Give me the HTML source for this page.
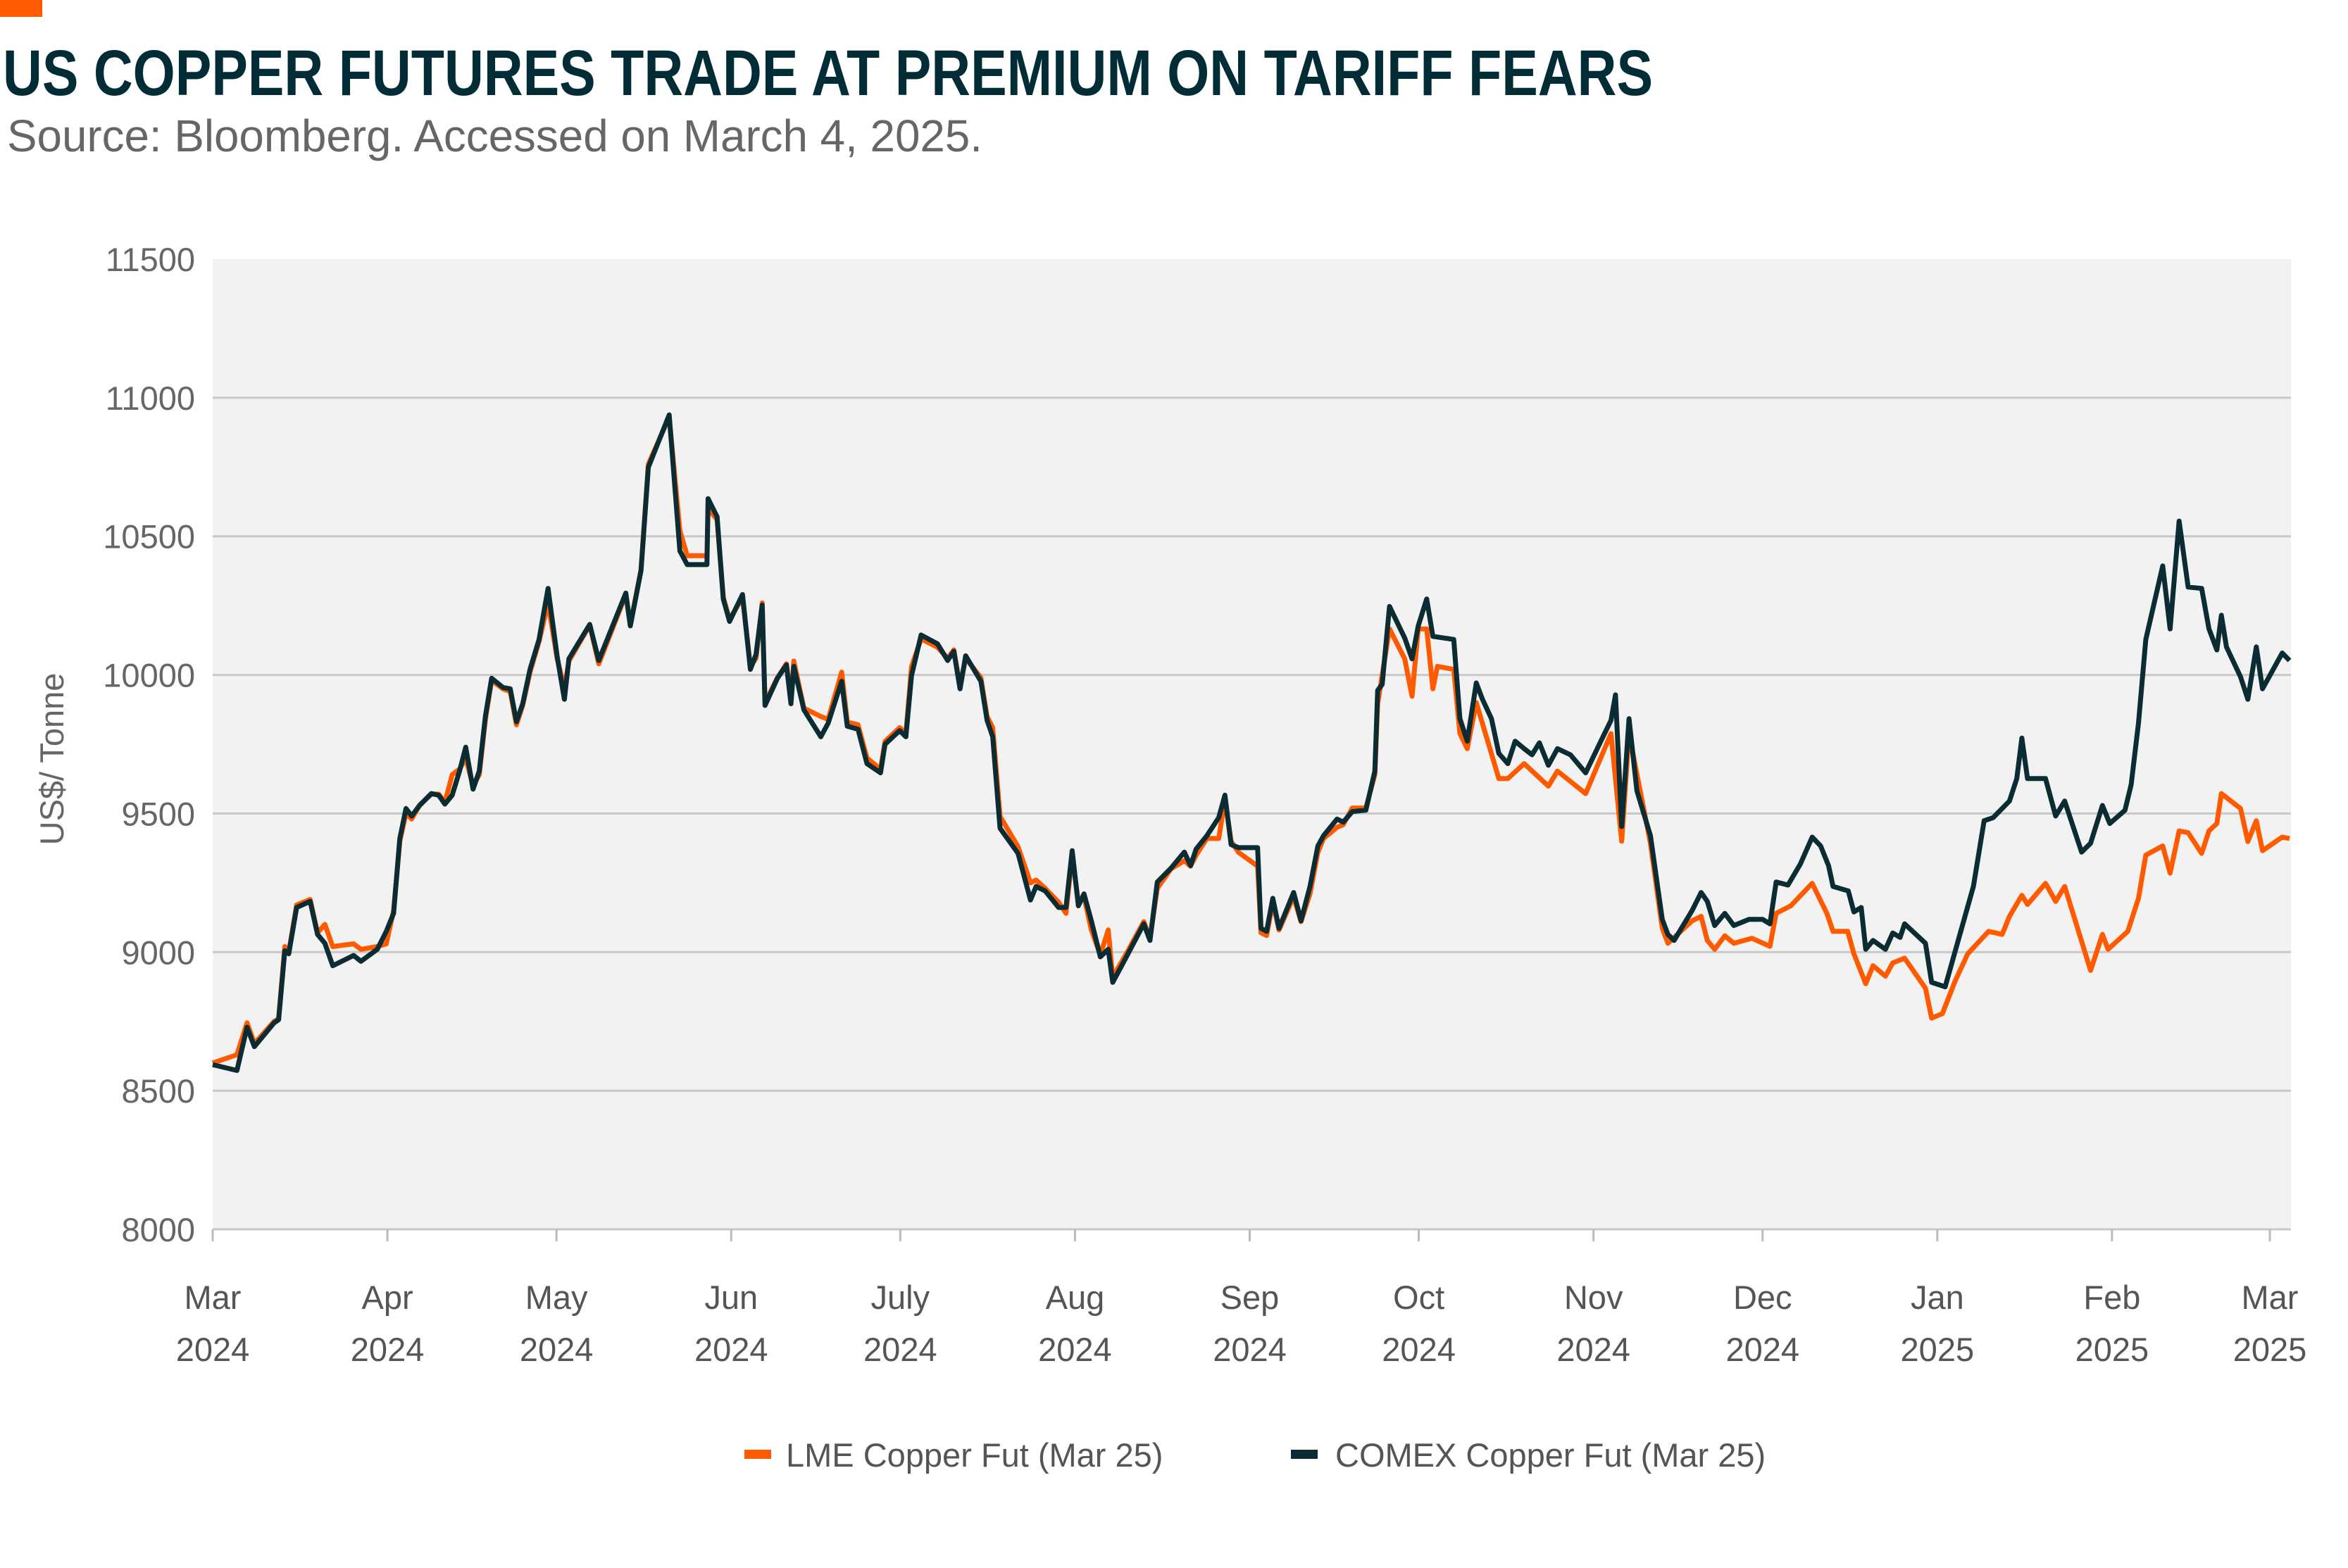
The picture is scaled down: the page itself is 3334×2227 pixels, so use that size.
<!DOCTYPE html>
<html><head><meta charset="utf-8"><style>
html,body{margin:0;padding:0;background:#fff;}
svg{display:block;font-family:"Liberation Sans",sans-serif;}
</style></head><body>
<svg id="chart" width="3334" height="2227" viewBox="0 0 3334 2227" xmlns="http://www.w3.org/2000/svg">
<rect x="0" y="0" width="60" height="24" fill="#ff5a00"/>
<text x="4" y="135" font-size="92" font-weight="bold" fill="#022d36" textLength="2343" lengthAdjust="spacingAndGlyphs">US COPPER FUTURES TRADE AT PREMIUM ON TARIFF FEARS</text>
<text x="10" y="215" font-size="64" fill="#666" textLength="1385" lengthAdjust="spacingAndGlyphs">Source: Bloomberg. Accessed on March 4, 2025.</text>
<rect x="302" y="368" width="2951" height="1378" fill="#f2f2f2"/>
<g id="grid"></g><g id="yticks"></g><g id="xticks"></g>
<text transform="translate(90,1078) rotate(-90)" text-anchor="middle" font-size="47" fill="#666">US$/ Tonne</text>
<g id="series"></g>
<g>
<rect x="1057" y="2059" width="38" height="13" fill="#ff5a00"/>
<text x="1116" y="2083" font-size="47" fill="#555">LME Copper Fut (Mar 25)</text>
<rect x="1833" y="2059" width="38" height="13" fill="#0b2c33"/>
<text x="1896" y="2083" font-size="47" fill="#555">COMEX Copper Fut (Mar 25)</text>
</g>
</svg>
<script>
const yTicks=[8000,8500,9000,9500,10000,10500,11000,11500];
const monthLabels=["Mar","Apr","May","Jun","July","Aug","Sep","Oct","Nov","Dec","Jan","Feb","Mar"];
const yearLabels=["2024","2024","2024","2024","2024","2024","2024","2024","2024","2024","2025","2025","2025"];
const monthDays=[0,31,61,92,122,153,184,214,245,275,306,337,365];
const comexDays=[0,4.3,6.1,7.4,10.9,11.7,12.8,13.5,14.9,17.3,18.6,19.9,21.3,25,26.3,29.2,30.8,32.1,33.2,34.3,35.3,36.7,38.8,40.1,41.2,42.5,43.8,44.9,46.2,47.3,48.4,49.5,51.5,52.8,53.9,55,56.3,57.9,59.5,61.1,62.4,63.2,66.9,68.5,73.3,74.1,76,77.3,81,82.9,84.2,87.7,87.9,89.5,90.6,91.7,94,95.4,96.4,97.5,98,100.2,101.8,102.6,103.1,104.9,107.9,109.2,111.6,112.6,114.5,116.1,118.5,119.3,121.9,123,124,125.7,128.6,130.4,131.5,132.6,133.6,136.3,137.4,138.4,139.7,142.9,145.1,146.1,147.7,150.1,151.4,152.5,153.6,154.6,155.9,157.5,158.9,159.7,162,165.2,166.3,167.6,170,172.4,173.5,174.5,176.4,178.5,179.6,180.7,182,185.4,186,187,188.1,189.2,191.8,193.1,194.7,196.1,197.1,199.5,200.6,202.2,204.6,206.2,206.7,207.5,208.8,211.5,212.8,213.9,215.4,216.5,220.2,221.3,222.6,224.2,225.3,226.9,228.2,229.8,231.1,232.7,234.1,235.4,237,238.6,240.9,243.6,246.8,248.1,248.9,250,251.3,252.7,255.1,257.2,258.2,259.3,262.5,264.1,265.2,266.5,268.3,269.9,272.6,275,276.3,277.4,279.5,281.7,283.8,285.3,286.7,287.5,290.2,291.2,292.5,293.3,294.6,296.8,298.1,299.4,300.2,303.9,305,307.4,312.4,314.3,315.9,318.8,320.1,321,322,325.2,327,328.6,331.6,333.2,335.3,336.6,339.3,340.4,341.7,343,346,347.3,348.9,350.5,352.9,354.2,355.6,356.4,357.3,359.8,361.1,362.6,363.7,367.2,368.5];
const comexValues=[8594,8573,8729,8659,8745,8756,9005,8994,9161,9183,9064,9032,8951,8988,8967,9010,9075,9140,9410,9518,9491,9529,9572,9566,9534,9566,9653,9739,9588,9653,9852,9988,9955,9950,9831,9896,10020,10128,10312,10069,9912,10058,10182,10052,10295,10177,10376,10749,10938,10447,10398,10398,10636,10571,10274,10193,10290,10020,10074,10252,9890,9988,10036,9896,10031,9874,9777,9826,9977,9815,9804,9680,9647,9750,9799,9777,9998,10144,10112,10052,10085,9950,10069,9977,9836,9777,9447,9356,9188,9237,9221,9161,9161,9366,9167,9210,9113,8983,9010,8891,8978,9102,9042,9253,9302,9361,9312,9372,9420,9485,9566,9388,9377,9377,9086,9075,9194,9086,9215,9113,9237,9383,9420,9480,9469,9507,9512,9653,9944,9966,10247,10133,10058,10177,10274,10139,10128,9842,9761,9971,9912,9842,9717,9680,9761,9734,9712,9755,9674,9734,9712,9647,9782,9836,9928,9453,9842,9582,9420,9118,9064,9042,9150,9215,9183,9096,9140,9096,9118,9118,9102,9253,9242,9318,9415,9383,9312,9237,9221,9145,9161,9010,9042,9010,9069,9053,9102,9032,8891,8875,9237,9474,9485,9545,9626,9772,9626,9626,9491,9545,9361,9393,9529,9464,9512,9604,9826,10128,10393,10166,10555,10317,10312,10166,10090,10215,10101,9993,9912,10101,9950,10079,10052];
const lmeDays=[0,4.3,6.1,7.4,10.9,11.7,12.8,13.5,14.9,17.3,18.6,19.9,21.3,25,26.3,29.2,30.8,32.1,33.2,34.3,35.3,36.7,38.8,40.1,41.2,42.5,43.8,44.9,46.2,47.3,48.4,49.5,51.5,52.8,53.9,55,56.3,57.9,59.5,61.1,62.4,63.2,66.9,68.5,73.3,74.1,76,77.3,81,82.9,84.2,87.7,87.9,89.5,90.6,91.7,94,95.4,96.4,97.5,98,100.2,101.8,102.6,103.1,104.9,107.9,109.2,111.6,112.6,114.5,116.1,118.5,119.3,121.9,123,124,125.7,128.6,130.4,131.5,132.6,133.6,136.3,137.4,138.4,139.7,142.9,145.1,146.1,147.7,150.1,151.4,152.5,153.6,154.6,155.9,157.5,158.9,159.7,162,165.2,166.3,167.6,170,172.4,173.5,174.5,176.4,178.5,179.6,180.7,182,185.4,186,187,188.1,189.2,191.8,193.1,194.7,196.1,197.1,199.5,200.6,202.2,204.6,206.2,206.7,208.8,211.5,212.8,213.9,215.4,216.5,217.3,220.2,221.3,222.6,224.2,228.2,229.8,232.7,237,238.6,243.6,248.1,250,251.3,255.1,257.2,258.2,262.5,264.1,265.2,266.5,268.3,269.9,273.1,276.3,277.4,280,283.8,286.4,287.5,290.1,291.2,293.3,294.6,296.8,298.1,300.2,303.9,305,306.9,309.2,311.4,315.1,317.5,318.8,321,322,325.2,327,328.6,333.2,335.3,336.3,339.8,341.7,343,346,347.3,348.9,350.5,352.9,354.2,355.6,356.4,359.8,361.1,362.6,363.7,367.2,368.5];
const lmeValues=[8600,8630,8745,8670,8750,8760,9020,9000,9170,9190,9070,9100,9020,9030,9010,9020,9030,9150,9400,9500,9480,9530,9570,9570,9540,9640,9660,9700,9600,9640,9840,9980,9950,9940,9820,9890,10010,10120,10260,10060,9950,10050,10180,10040,10290,10180,10380,10760,10930,10520,10430,10430,10600,10560,10280,10200,10280,10030,10060,10260,9900,9990,10040,9910,10050,9880,9850,9840,10010,9830,9820,9700,9660,9760,9810,9790,10030,10130,10100,10060,10090,9960,10060,9990,9850,9810,9490,9380,9250,9260,9230,9180,9140,9350,9180,9200,9080,8990,9080,8910,8990,9110,9050,9230,9300,9330,9310,9350,9410,9410,9550,9400,9360,9310,9070,9060,9180,9080,9200,9110,9210,9360,9410,9450,9460,9520,9520,9640,9896,10166,10058,9923,10166,10166,9950,10031,10020,9788,9734,9900,9626,9626,9680,9599,9653,9572,9788,9400,9788,9393,9086,9032,9113,9129,9042,9010,9059,9032,9050,9021,9140,9167,9248,9140,9075,9075,8994,8886,8951,8913,8961,8978,8870,8762,8778,8897,8994,9075,9064,9129,9205,9172,9248,9183,9237,8934,9064,9010,9075,9194,9350,9383,9285,9437,9431,9356,9437,9464,9572,9518,9399,9474,9366,9415,9410];

const NS="http://www.w3.org/2000/svg";
const L=302,R=3253,T=368,B=1746,X0=302,XM=3223;
function xs(d){return X0+d*(XM-X0)/365;}
function ys(v){return B-(v-8000)*(B-T)/3500;}
function mk(tag,attrs,parent,txt){const e=document.createElementNS(NS,tag);for(const k in attrs)e.setAttribute(k,attrs[k]);if(txt!==undefined)e.textContent=txt;parent.appendChild(e);return e;}
const grid=document.getElementById('grid'),yt=document.getElementById('yticks'),xt=document.getElementById('xticks'),ser=document.getElementById('series');
yTicks.forEach(v=>{
 if(v>8000&&v<11500){const g=mk('line',{x1:L,x2:R,y1:ys(v),y2:ys(v),stroke:'#c8c8c8','stroke-width':3},grid);
 
 }
 const t=mk('text',{x:277,y:ys(v)+17,'text-anchor':'end','font-size':47,fill:'#666'},yt,String(v));
 
 
});
const ax=mk('line',{x1:L,x2:R,y1:B,y2:B,stroke:'#c8c8c8','stroke-width':3},xt);


monthDays.forEach((d,i)=>{
 const x=xs(d);
 const tk=mk('line',{x1:x,x2:x,y1:B,y2:B+17,stroke:'#bbb','stroke-width':3},xt);
 
 
 const m=mk('text',{x:x,y:1859,'text-anchor':'middle','font-size':47,fill:'#555'},xt,monthLabels[i]);
 
 
 const y=mk('text',{x:x,y:1933,'text-anchor':'middle','font-size':47,fill:'#555'},xt,yearLabels[i]);
 
 
});
function line(days,vals){return days.map((d,i)=>(i?'L':'M')+xs(d).toFixed(1)+','+ys(vals[i]).toFixed(1)).join(' ');}
const p1=mk('path',{d:line(lmeDays,lmeValues),fill:'none',stroke:'#ff5a00','stroke-width':7,'stroke-linejoin':'round'},ser);


const p2=mk('path',{d:line(comexDays,comexValues),fill:'none',stroke:'#0b2c33','stroke-width':7,'stroke-linejoin':'round'},ser);


</script>
</body></html>
